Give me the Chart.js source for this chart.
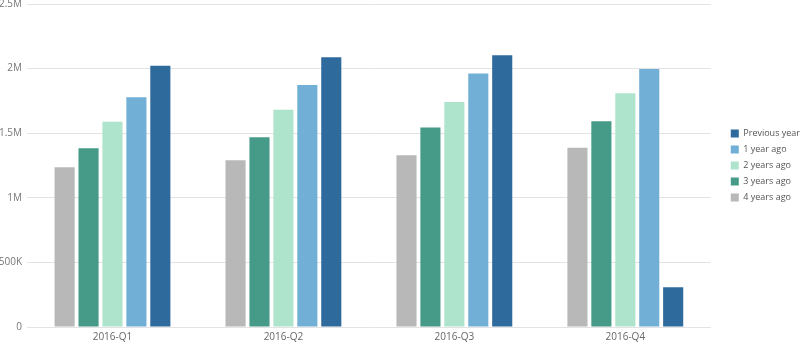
<!DOCTYPE html>
<html>
<head>
<meta charset="utf-8">
<script src="https://cdn.jsdelivr.net/npm/chart.js@4/dist/chart.umd.min.js"></script>
<style>
  html, body { margin: 0; padding: 0; background: #fff; }
  #wrap { width: 800px; height: 343px; }
</style>
</head>
<body>
<div id="wrap"><canvas id="chart"></canvas></div>
<script>
// ===== Dados =====
const quarters = ['2016-Q1', '2016-Q2', '2016-Q3', '2016-Q4'];

const fourYearsAgo = [1236000, 1290000, 1330000, 1388000];
const threeYearsAgo = [1383000, 1468000, 1545000, 1592000];
const twoYearsAgo = [1589000, 1682000, 1741000, 1809000];
const oneYearAgo = [1778000, 1873000, 1963000, 1997000];
const previousYear = [2022000, 2088000, 2103000, 307000];

const yTicks = [0, 500000, 1000000, 1500000, 2000000, 2500000];

// ===== Gráfico =====
function fmt(v) {
  if (v === 0) return '0';
  if (v >= 1000000) return (v / 1000000) + 'M';
  return (v / 1000) + 'K';
}

const series = [
  { label: '4 years ago', data: fourYearsAgo, color: '#b8b8b8' },
  { label: '3 years ago', data: threeYearsAgo, color: '#459a88' },
  { label: '2 years ago', data: twoYearsAgo, color: '#ade4cb' },
  { label: '1 year ago', data: oneYearAgo, color: '#72afd7' },
  { label: 'Previous year', data: previousYear, color: '#2e6a9c' }
];

const font = { family: 'Open Sans', size: 10 };

const ctx = document.getElementById('chart').getContext('2d');
new Chart(ctx, {
  type: 'bar',
  data: {
    labels: quarters,
    datasets: series.map(s => ({
      label: s.label,
      data: s.data,
      backgroundColor: s.color,
      borderWidth: 0,
      categoryPercentage: 0.7,
      barPercentage: 0.84
    }))
  },
  options: {
    responsive: true,
    maintainAspectRatio: false,
    animation: false,
    layout: { padding: { top: 4, right: -10, left: 0, bottom: 0 } },
    plugins: {
      tooltip: { enabled: false },
      legend: {
        position: 'right',
        fullSize: false,
        reverse: true,
        labels: {
          boxWidth: 8,
          boxHeight: 8,
          padding: 7,
          color: '#555',
          font: { family: 'Open Sans', size: 9 }
        }
      }
    },
    scales: {
      x: {
        grid: { display: false, drawTicks: false },
        border: { display: false },
        afterFit: axis => { axis.height = 16; },
        ticks: { color: '#666', font: font, padding: 4 }
      },
      y: {
        min: 0,
        max: 2500000,
        afterBuildTicks: axis => { axis.ticks = yTicks.map(v => ({ value: v })); },
        afterFit: axis => { axis.width = 27; axis.paddingTop = 0; axis.paddingBottom = 0; },
        grid: { color: '#e3e3e3', drawTicks: false },
        border: { display: false },
        ticks: {
          color: '#777',
          font: font,
          padding: 5,
          callback: v => fmt(v)
        }
      },
      // eixo vazio só para abrir espaço entre o gráfico e a legenda
      gap: {
        type: 'linear',
        position: 'right',
        grid: { display: false, drawTicks: false },
        border: { display: false },
        ticks: { display: false },
        afterFit: axis => { axis.width = 13; axis.paddingTop = 0; axis.paddingBottom = 0; }
      }
    }
  }
});
</script>
</body>
</html>
